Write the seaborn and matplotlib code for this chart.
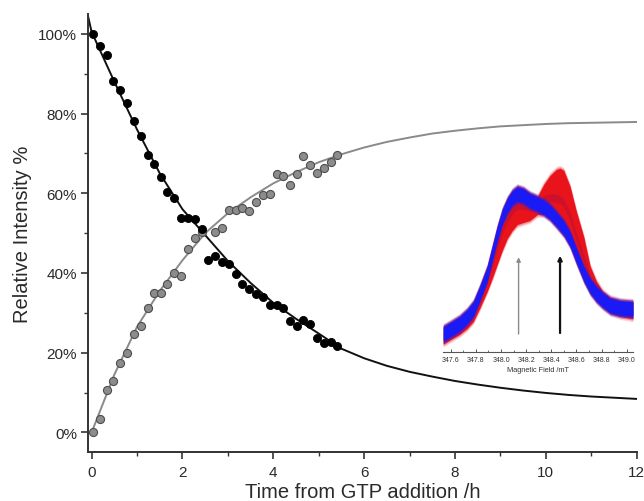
import numpy as np
import pandas as pd
import matplotlib
matplotlib.use("Agg")
import matplotlib.pyplot as plt
from matplotlib.ticker import MultipleLocator, FuncFormatter
import seaborn as sns

# ---------------- data ----------------
time_h = [0.03, 0.18, 0.33, 0.48, 0.63, 0.78, 0.93, 1.08, 1.23, 1.38,
          1.53, 1.67, 1.82, 1.97, 2.12, 2.27, 2.42, 2.57, 2.72, 2.87,
          3.02, 3.17, 3.32, 3.47, 3.62, 3.77, 3.92, 4.07, 4.22, 4.37,
          4.52, 4.66, 4.81, 4.96, 5.11, 5.26, 5.41]
black_pct = [100.0, 97.0, 94.7, 88.3, 86.0, 82.7, 78.2, 74.3, 69.7, 67.4,
             64.1, 60.4, 58.7, 53.8, 53.9, 53.5, 51.0, 43.3, 44.2, 42.7,
             42.3, 39.8, 37.3, 36.0, 34.7, 33.9, 31.9, 32.0, 31.3, 28.0,
             26.7, 28.2, 27.2, 23.8, 22.4, 22.7, 21.6]
grey_pct = [0.0, 3.3, 10.7, 12.9, 17.5, 19.8, 24.6, 26.6, 31.3, 35.1,
            35.1, 37.2, 40.0, 39.2, 45.9, 48.7, 50.4, np.nan, 50.4, 51.2,
            55.9, 55.9, 56.2, 55.6, 57.7, 59.5, 59.8, 64.8, 64.4, 62.1,
            64.8, 69.4, 67.2, 65.1, 66.3, 67.8, 69.7]

# fitted curves
fit_t = [-0.09, 0.0, 0.5, 1.0, 1.5, 2.0, 2.5, 3.0, 3.5, 4.0, 4.5, 5.0, 5.5,
         6.0, 6.5, 7.0, 7.5, 8.0, 8.5, 9.0, 9.5, 10.0, 10.5, 11.0, 11.5, 12.0]
fit_black = [105.0, 100.5, 88.0, 76.0, 65.0, 56.0, 49.5, 43.0, 37.5, 32.5,
             28.5, 24.8, 21.0, 18.6, 16.7, 15.2, 14.0, 12.9, 12.0, 11.2,
             10.5, 9.9, 9.4, 9.0, 8.7, 8.4]
fit_grey = [np.nan, 0.0, 14.5, 26.5, 35.5, 43.2, 50.0, 55.0, 59.0, 62.5,
            65.3, 67.8, 69.8, 71.5, 72.9, 74.0, 75.0, 75.7, 76.3, 76.8,
            77.1, 77.4, 77.6, 77.7, 77.8, 77.9]

x_ticks = [0, 2, 4, 6, 8, 10, 12]
y_ticks = [0, 20, 40, 60, 80, 100]

# inset EPR spectra (arbitrary intensity units)
field_mT = [347.54, 347.60, 347.67, 347.73, 347.78, 347.83, 347.89, 347.93,
            347.97, 348.01, 348.05, 348.09, 348.13, 348.18, 348.23, 348.29,
            348.34, 348.39, 348.44, 348.47, 348.50, 348.55, 348.60, 348.66,
            348.71, 348.76, 348.81, 348.87, 348.95, 349.05]
spec_blue = [17.7, 22.2, 27.7, 34.7, 42.7, 57.7, 77.7, 97.7,
             117.7, 134.7, 146.0, 153.7, 157.7, 155.7, 151.0, 147.7,
             144.4, 139.7, 132.7, 128.2, 123.7, 112.7, 96.2, 77.7,
             65.7, 57.7, 51.7, 46.0, 43.7, 42.7]
spec_red = [15.0, 19.7, 24.7, 30.7, 37.7, 50.7, 67.7, 80.7,
            94.7, 108.7, 120.7, 128.7, 134.7, 136.7, 138.7, 144.7,
            159.7, 168.7, 174.7, 176.0, 173.7, 157.7, 132.7, 106.7,
            77.7, 62.7, 52.7, 46.7, 42.7, 40.4]
inset_ticks = [347.6, 347.8, 348.0, 348.2, 348.4, 348.6, 348.8, 349.0]
arrow_field = [348.14, 348.47]
arrow_from = [17.7, 18.7]
arrow_to = [94.4, 96.0]

# ---------------- style ----------------
sns.set_theme(style="ticks")
plt.rcParams['font.family'] = ['Liberation Sans', 'DejaVu Sans']
text_c = "#2a2a2a"

fig = plt.figure(figsize=(6.44, 5.02), dpi=100)
ax = fig.add_axes([88 / 644, (502 - 453.3) / 502, (636.7 - 88) / 644, 438.3 / 502])

df = pd.DataFrame({"t": time_h, "black": black_pct, "grey": grey_pct})
fit = pd.DataFrame({"t": fit_t, "black": fit_black, "grey": fit_grey})

sns.lineplot(data=fit.dropna(subset=["grey"]), x="t", y="grey", ax=ax,
             color="#8a8a8a", lw=1.4, sort=False, estimator=None, zorder=2)
sns.lineplot(data=fit, x="t", y="black", ax=ax,
             color="#111111", lw=1.4, sort=False, estimator=None, zorder=2)
sns.scatterplot(data=df.dropna(subset=["grey"]), x="t", y="grey", ax=ax,
                color="#8c8c8c", edgecolor="#4e4e4e", linewidth=0.8, s=34, zorder=3)
sns.scatterplot(data=df, x="t", y="black", ax=ax,
                color="#000000", edgecolor="#000000", linewidth=0.6, s=34, zorder=4)

ax.set_xlim(-0.08, 12.0)
ax.set_ylim(-5, 105)
ax.set_xticks(x_ticks)
ax.set_yticks(y_ticks)
ax.xaxis.set_minor_locator(MultipleLocator(1))
ax.yaxis.set_minor_locator(MultipleLocator(10))
ax.yaxis.set_major_formatter(FuncFormatter(lambda v, p: f"{int(v)}%"))
for s in ["top", "right"]:
    ax.spines[s].set_visible(False)
for s in ["left", "bottom"]:
    ax.spines[s].set_color("#333333")
    ax.spines[s].set_linewidth(1.4)
ax.tick_params(which="major", direction="out", length=5, width=1.2,
               color="#333333", labelsize=11, labelcolor=text_c, pad=3)
ax.tick_params(which="minor", direction="out", length=3, width=1.0, color="#333333")
ax.tick_params(axis="x", which="major", pad=4)
ax.set_xlabel("Time from GTP addition /h", fontsize=14.5, color=text_c, labelpad=2)
ax.set_ylabel("Relative Intensity %", fontsize=14.5, color=text_c, labelpad=4)
ax.grid(False)

# ---------------- inset ----------------
ins = fig.add_axes([442.7 / 644, (502 - 352.7) / 502, 190.6 / 644, 202.7 / 502])
ins.patch.set_alpha(0)
fx = np.array(field_mT)
rb = np.array(spec_red)
bb = np.array(spec_blue)
lo = np.minimum(rb, bb)
hi = np.maximum(rb, bb)
mid = (rb + bb) / 2
for w, a in [(10.5, 0.18), (9, 0.35), (7.5, 1.0)]:
    ins.fill_between(fx, lo - w, hi + w, color="#e8131b", alpha=a, lw=0)
ins.fill_between(fx, mid - 4, mid + 4, color="#a01048", alpha=0.35, lw=0)
ins.fill_between(fx, bb - 9, bb + 9, color="#8a1a8a", alpha=0.35, lw=0)
for w, a in [(10, 0.2), (8.5, 0.4), (7, 1.0)]:
    ins.fill_between(fx, bb - w, bb + w, color="#1a1af5", alpha=a, lw=0)

ins.annotate("", xy=(arrow_field[0], arrow_to[0]), xytext=(arrow_field[0], arrow_from[0]),
             arrowprops=dict(arrowstyle="-|>", color="#8a8a8a", lw=1.0,
                             mutation_scale=6, shrinkA=0, shrinkB=0))
ins.annotate("", xy=(arrow_field[1], arrow_to[1]), xytext=(arrow_field[1], arrow_from[1]),
             arrowprops=dict(arrowstyle="-|>", color="#111111", lw=1.6,
                             mutation_scale=6, shrinkA=0, shrinkB=0))

ins.set_xlim(347.536, 349.053)
ins.set_ylim(0, 202.7)
ins.set_xticks(inset_ticks)
ins.set_xticklabels([f"{v:.1f}" for v in inset_ticks])
ins.xaxis.set_minor_locator(MultipleLocator(0.1))
ins.set_yticks([])
for s in ["top", "right", "left"]:
    ins.spines[s].set_visible(False)
ins.spines["bottom"].set_color("#555555")
ins.spines["bottom"].set_linewidth(0.8)
ins.tick_params(axis="x", which="major", direction="in", length=2.5, width=0.7,
                color="#555555", labelsize=5, labelcolor="#333333", pad=3)
ins.tick_params(axis="x", which="minor", direction="in", length=1.5, width=0.6, color="#555555")
ins.set_xlabel("Magnetic Field /mT", fontsize=5.3, color="#333333", labelpad=2)
ins.grid(False)

fig.savefig("out.png", dpi=100)
